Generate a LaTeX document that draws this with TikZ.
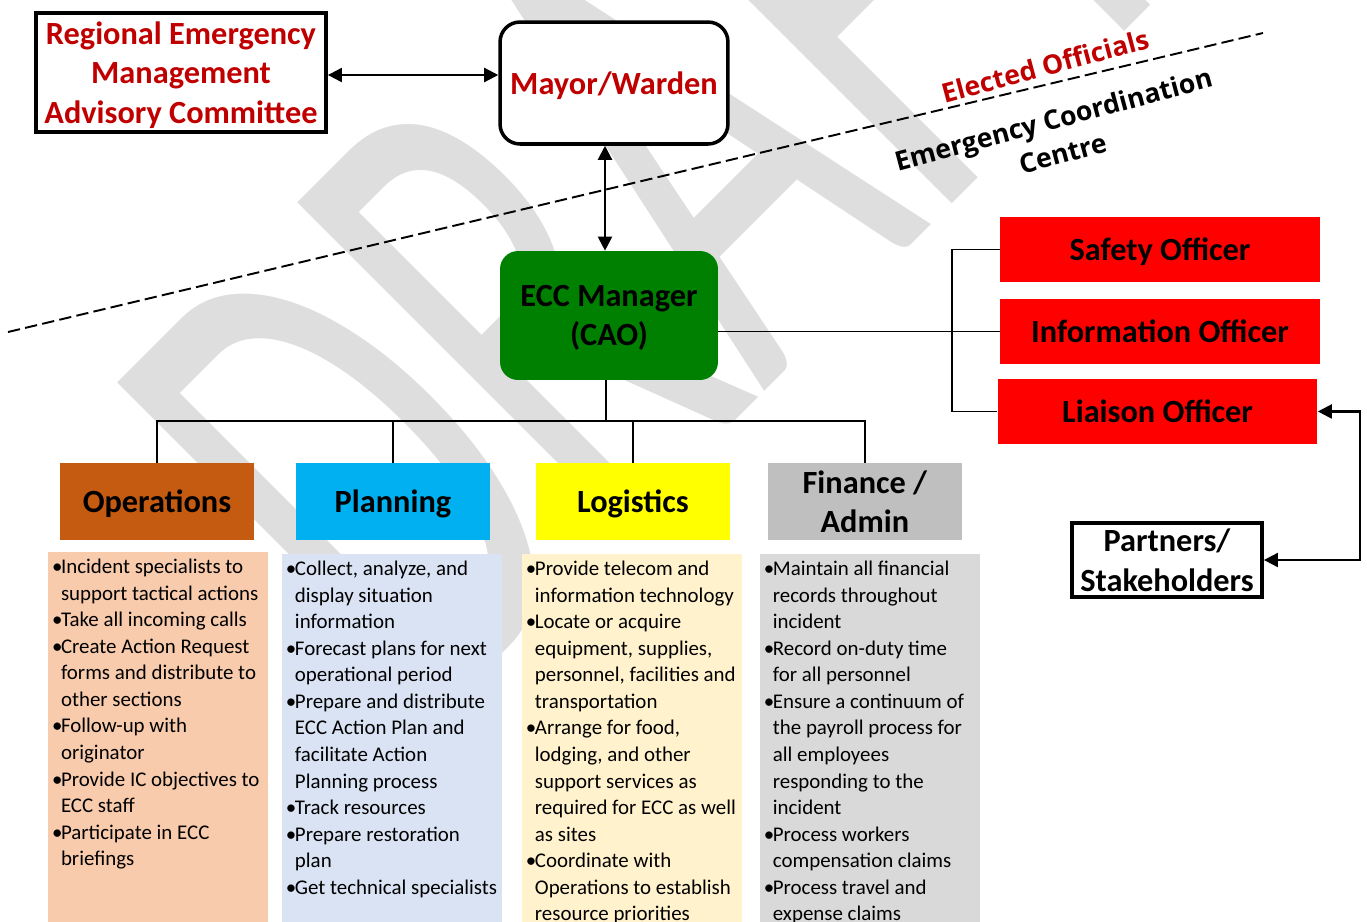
\documentclass[tikz,border=0pt]{standalone}
\usepackage{fontspec}
\setmainfont{Carlito}
\newfontfamily\sideFont{Open Sans}
\usepackage{tikz}
\usetikzlibrary{shapes,arrows.meta}
\usetikzlibrary{positioning}
\usetikzlibrary{calc}
\definecolor{darkRed}{RGB}{192,0,0}
\definecolor{eccGreen}{RGB}{0,128,0}
\definecolor{officerRed}{RGB}{255,0,0}
\definecolor{opsHead}{RGB}{197,90,17}
\definecolor{planHead}{RGB}{0,176,240}
\definecolor{logHead}{RGB}{255,255,0}
\definecolor{finHead}{RGB}{191,191,191}
\definecolor{opsList}{RGB}{248,203,173}
\definecolor{planList}{RGB}{218,227,243}
\definecolor{logList}{RGB}{255,242,204}
\definecolor{finList}{RGB}{217,217,217}
\definecolor{markGray}{RGB}{222,222,222}
\newcommand{\headFont}{\fontsize{18.4}{22.4}\selectfont\bfseries}
\newcommand{\listFont}{\fontsize{11.9}{15.1}\selectfont}
\newcommand{\listBullet}{\makebox[0.18cm][l]{\textbullet}}
\newcommand{\bulletList}[1]{\parbox[t][7.6cm][t]{4.4cm}{\vspace*{0.07cm}\listFont\begin{tabular}[t]{@{\hspace{0.08cm}}l@{}l@{}}#1\end{tabular}}}
\tikzstyle{boxNode} = [rectangle, draw=black, line width=2.2pt, fill=white, align=center, text depth=0pt, font=\headFont]
\tikzstyle{eccNode} = [rectangle, rounded corners=0.36cm, fill=eccGreen, align=center, text depth=0pt, font=\headFont, minimum width=4.36cm, minimum height=2.58cm]
\tikzstyle{officerNode} = [rectangle, fill=officerRed, text depth=0pt, font=\headFont, minimum width=6.4cm, minimum height=1.3cm]
\tikzstyle{headNode} = [rectangle, align=center, text depth=0pt, font=\headFont, minimum width=3.88cm, minimum height=1.54cm]
\tikzstyle{listNode} = [rectangle, anchor=north west, inner sep=0pt]
\tikzstyle{markNode} = [text=markGray, inner sep=0pt, anchor=base west, font=\fontsize{235}{235}\selectfont]
\tikzstyle{sideLabel} = [align=center, rotate=15, font=\sideFont\bfseries\fontsize{15.2}{20}\selectfont]
\tikzstyle{linkLine} = [line width=1.1pt]
\tikzstyle{dblArrow} = [line width=1.2pt, {Triangle[length=8pt,width=8pt]}-{Triangle[length=8pt,width=8pt]}]

\begin{document}
\begin{tikzpicture}[x=0.02cm, y=-0.02cm]
	\useasboundingbox (0,0) rectangle (1367,921);
	\clip (0,0) rectangle (1367,921);
	
	% watermark
	\node[markNode, rotate=45, yscale=1.75] (Draft-Mark) at (425,731) {DRAFT};
	
	% elected officials / ECC divide
	\coordinate (divide-left) at (8,332);
	\coordinate (divide-right) at (1263,33);
	\draw[line width=1.1pt, dash pattern=on 7pt off 3pt] (divide-left) -- (divide-right);
	\node[sideLabel, text=darkRed] (Elected-Label) at (1045,66) {Elected Officials};
	\node[sideLabel] (ECC-Label) at (1058,136) {Emergency Coordination\\Centre};
	
	\node[boxNode, text=darkRed, minimum width=5.8cm, minimum height=2.38cm](REMAC) at (181,72.5) {Regional Emergency\\Management\\Advisory Committee};
	
	\node[boxNode, text=darkRed, line width=2pt, rounded corners=0.4cm, minimum width=4.56cm, minimum height=2.44cm](Mayor) at (614,83) {Mayor/Warden};
	
	\node[eccNode](ECC-Manager) at (609,315.5) {ECC Manager\\(CAO)};
	
	\node[officerNode](Safety-Officer) at (1160,249.5) {Safety Officer};
	\node[officerNode]at([yshift=-1.64cm]Safety-Officer)(Information-Officer){Information Officer};
	\node[officerNode]at([xshift=-0.05cm, yshift=-1.6cm]Information-Officer)(Liaison-Officer){Liaison Officer};
	
	\node[boxNode, minimum width=3.8cm, minimum height=1.48cm](Partners) at (1167,560) {Partners/\\Stakeholders};
	
	\node[headNode, fill=opsHead](Operations) at (157,501.5) {Operations};
	\node[headNode, fill=planHead]at([xshift=4.72cm]Operations)(Planning){Planning};
	\node[headNode, fill=logHead]at([xshift=4.8cm]Planning)(Logistics){Logistics};
	\node[headNode, fill=finHead]at([xshift=4.64cm]Logistics)(Finance-Admin){Finance /\\Admin};
	
	\node[listNode, fill=opsList]at([xshift=-0.24cm, yshift=-0.22cm]Operations.south west)(Operations-List){\bulletList{
		\listBullet & Incident specialists to\\
		& support tactical actions\\
		\listBullet & Take all incoming calls\\
		\listBullet & Create Action Request\\
		& forms and distribute to\\
		& other sections\\
		\listBullet & Follow-up with\\
		& originator\\
		\listBullet & Provide IC objectives to\\
		& ECC staff\\
		\listBullet & Participate in ECC\\
		& briefings}};
	
	\node[listNode, fill=planList]at([xshift=-0.28cm, yshift=-0.26cm]Planning.south west)(Planning-List){\bulletList{
		\listBullet & Collect, analyze, and\\
		& display situation\\
		& information\\
		\listBullet & Forecast plans for next\\
		& operational period\\
		\listBullet & Prepare and distribute\\
		& ECC Action Plan and\\
		& facilitate Action\\
		& Planning process\\
		\listBullet & Track resources\\
		\listBullet & Prepare restoration\\
		& plan\\
		\listBullet & Get technical specialists}};
	
	\node[listNode, fill=logList]at([xshift=-0.28cm, yshift=-0.26cm]Logistics.south west)(Logistics-List){\bulletList{
		\listBullet & Provide telecom and\\
		& information technology\\
		\listBullet & Locate or acquire\\
		& equipment, supplies,\\
		& personnel, facilities and\\
		& transportation\\
		\listBullet & Arrange for food,\\
		& lodging, and other\\
		& support services as\\
		& required for ECC as well\\
		& as sites\\
		\listBullet & Coordinate with\\
		& Operations to establish\\
		& resource priorities}};
	
	\node[listNode, fill=finList]at([xshift=-0.16cm, yshift=-0.26cm]Finance-Admin.south west)(Finance-List){\bulletList{
		\listBullet & Maintain all financial\\
		& records throughout\\
		& incident\\
		\listBullet & Record on-duty time\\
		& for all personnel\\
		\listBullet & Ensure a continuum of\\
		& the payroll process for\\
		& all employees\\
		& responding to the\\
		& incident\\
		\listBullet & Process workers\\
		& compensation claims\\
		\listBullet & Process travel and\\
		& expense claims}};
	
	% connectors
	\draw[dblArrow] ([yshift=-0.05cm]REMAC.east) -- ([yshift=-0.05cm]REMAC.east -| Mayor.west);
	\draw[dblArrow] ([xshift=-0.08cm]ECC-Manager.north) -- ([xshift=-0.08cm]ECC-Manager.north |- Mayor.south);
	
	\coordinate (bus) at (606,421);
	\draw[linkLine] (ECC-Manager.south -| bus) -- (bus);
	\draw[linkLine] (Operations.north) -- (Operations.north |- bus) -- (Finance-Admin.north |- bus) -- (Finance-Admin.north);
	\draw[linkLine] (Planning.north) -- (Planning.north |- bus);
	\draw[linkLine] (Logistics.north) -- (Logistics.north |- bus);
	
	\coordinate (bracket) at (952,0);
	\draw[linkLine] (Information-Officer.west) -- (Information-Officer.west -| ECC-Manager.east);
	\draw[linkLine] (Safety-Officer.west) -- (Safety-Officer.west -| bracket) -- (Liaison-Officer.west -| bracket) -- (Liaison-Officer.west);
	
	\draw[dblArrow] (Liaison-Officer.east) -- ++(42,0) |- (Partners.east);
	
\end{tikzpicture}
\end{document}
